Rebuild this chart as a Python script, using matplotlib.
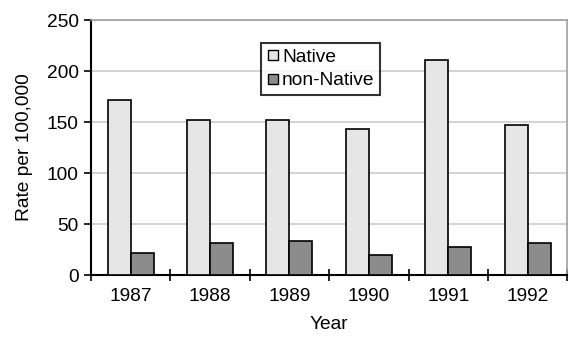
import matplotlib.pyplot as plt
import numpy as np
from matplotlib.lines import Line2D

plt.rcParams['font.family'] = ['Liberation Sans', 'DejaVu Sans']

years = ["1987", "1988", "1989", "1990", "1991", "1992"]
native = [172, 152, 152, 143, 211, 147]
non_native = [22, 31, 33, 20, 28, 31]

x = np.arange(len(years))
width = 0.29
fs = 13.8

fig = plt.figure(figsize=(5.69, 3.4), dpi=100)
ax = fig.add_axes([0.16, 0.191, 0.837, 0.75])

ax.bar(x - width / 2, native, width, color='#e6e6e6', edgecolor='black', linewidth=1.2, zorder=3)
ax.bar(x + width / 2, non_native, width, color='#8c8c8c', edgecolor='black', linewidth=1.2, zorder=3)

ax.set_xlim(-0.5, len(years) - 0.5)
ax.set_ylim(0, 250)
ax.set_yticks(np.arange(0, 251, 50))
ax.yaxis.grid(True, color='#cccccc', linewidth=1.2, zorder=0)

# category labels centred, tick marks between groups
ax.set_xticks(np.arange(-0.5, len(years), 1.0))
ax.set_xticklabels([])
ax.set_xticks(x, minor=True)
ax.set_xticklabels(years, minor=True)
ax.tick_params(axis='x', which='major', direction='inout', length=8, width=1.2)
ax.tick_params(axis='x', which='minor', length=0, pad=9, labelsize=fs)
ax.tick_params(axis='y', direction='out', length=5, width=1.2, labelsize=fs, pad=4)

for side in ['top', 'right']:
    ax.spines[side].set_color('#a0a0a0')
    ax.spines[side].set_linewidth(1.2)
for side in ['left', 'bottom']:
    ax.spines[side].set_linewidth(1.5)

ax.set_ylabel('Rate per 100,000', fontsize=fs, labelpad=10)
ax.set_xlabel('Year', fontsize=fs, labelpad=8)

handles = [
    Line2D([], [], marker='s', linestyle='none', markersize=7, markerfacecolor='#e6e6e6', markeredgecolor='black'),
    Line2D([], [], marker='s', linestyle='none', markersize=7, markerfacecolor='#8c8c8c', markeredgecolor='black'),
]
leg = ax.legend(handles, ['Native', 'non-Native'], loc='upper left', bbox_to_anchor=(0.357, 0.91),
                fontsize=fs, frameon=True, fancybox=False, borderpad=0.3, handlelength=0.6,
                handletextpad=0.2, labelspacing=0.3, borderaxespad=0)
leg.get_frame().set_edgecolor('black')
leg.get_frame().set_linewidth(1.5)

fig.savefig('out.png', dpi=100)
